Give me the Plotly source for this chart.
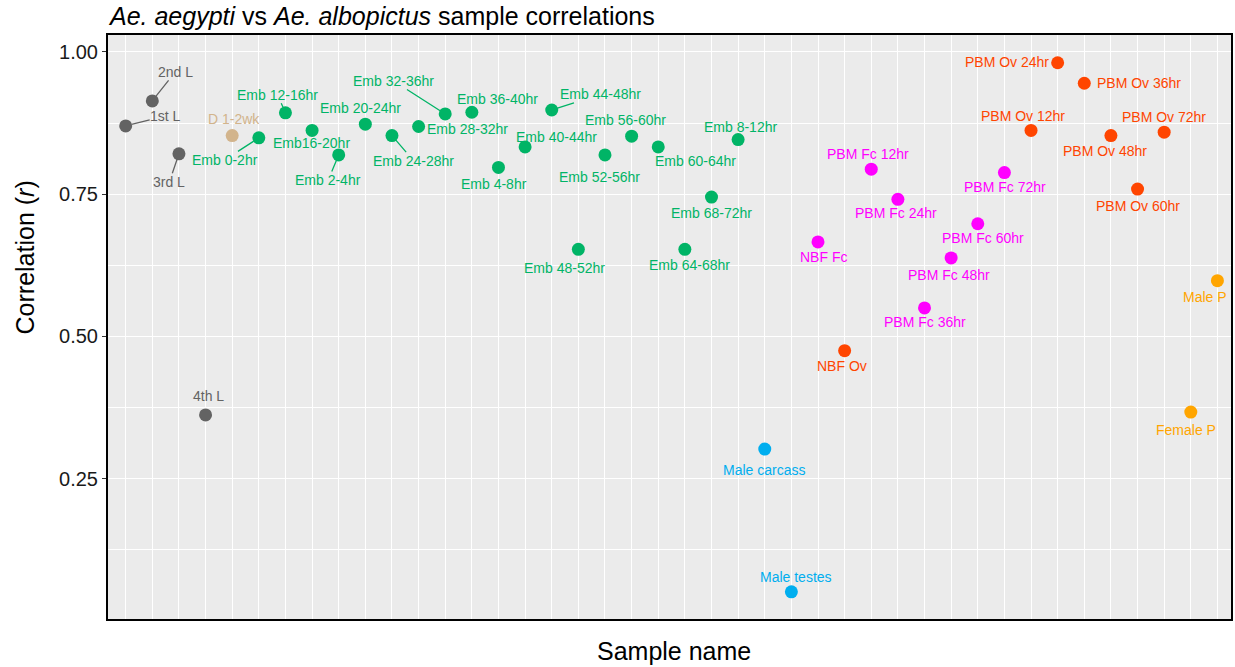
import plotly.graph_objects as go

# Samples in plotting order (alphabetical, as factor levels)
samples = [
    "1st L", "2nd L", "3rd L", "4th L", "D 1-2wk",
    "Emb 0-2hr", "Emb 12-16hr", "Emb16-20hr", "Emb 2-4hr", "Emb 20-24hr",
    "Emb 24-28hr", "Emb 28-32hr", "Emb 32-36hr", "Emb 36-40hr", "Emb 4-8hr",
    "Emb 40-44hr", "Emb 44-48hr", "Emb 48-52hr", "Emb 52-56hr", "Emb 56-60hr",
    "Emb 60-64hr", "Emb 64-68hr", "Emb 68-72hr", "Emb 8-12hr",
    "Male carcass", "Male testes", "NBF Fc", "NBF Ov",
    "PBM Fc 12hr", "PBM Fc 24hr", "PBM Fc 36hr", "PBM Fc 48hr", "PBM Fc 60hr", "PBM Fc 72hr",
    "PBM Ov 12hr", "PBM Ov 24hr", "PBM Ov 36hr", "PBM Ov 48hr", "PBM Ov 60hr", "PBM Ov 72hr",
    "Female P", "Male P",
]

# Pearson correlation between species for each sample
correlation = [
    0.870, 0.914, 0.821, 0.362, 0.853,
    0.849, 0.893, 0.862, 0.819, 0.873,
    0.853, 0.869, 0.891, 0.894, 0.797,
    0.833, 0.898, 0.653, 0.819, 0.852,
    0.833, 0.653, 0.745, 0.846,
    0.302, 0.051, 0.666, 0.475,
    0.794, 0.741, 0.550, 0.638, 0.698, 0.788,
    0.862, 0.981, 0.945, 0.853, 0.759, 0.859,
    0.367, 0.598,
]

# Tissue / stage group of each sample
group = (
    ["Larva"] * 4 + ["Egg"] + ["Embryo"] * 19 + ["Male"] * 2
    + ["Female carcass", "Ovary"] + ["Female carcass"] * 6 + ["Ovary"] * 6
    + ["Pupa"] * 2
)

y_ticks = [0.25, 0.50, 0.75, 1.00]
y_tick_labels = ["0.25", "0.50", "0.75", "1.00"]

group_colors = {
    "Larva": "#636363",
    "Egg": "#D2B48C",
    "Embryo": "#00B466",
    "Male": "#00AEEF",
    "Female carcass": "#FF00FF",
    "Ovary": "#FF4500",
    "Pupa": "#FFA500",
}

# Repelled label placement: pixel offset of label centre from its point,
# and whether a leader segment is drawn
label_offsets = {
    "1st L": (40, -10, True), "2nd L": (23, -29, True), "3rd L": (-9.5, 28, True),
    "4th L": (3, -19, False), "D 1-2wk": (2, -17, False),
    "Emb 0-2hr": (-34, 22, True), "Emb 12-16hr": (-8, -18, True),
    "Emb16-20hr": (-1, 13, False), "Emb 2-4hr": (-10.5, 25, True),
    "Emb 20-24hr": (-5, -16, False), "Emb 24-28hr": (21.5, 25, True),
    "Emb 28-32hr": (48.5, 2.3, False), "Emb 32-36hr": (-51.5, -33, True),
    "Emb 36-40hr": (26, -13, False), "Emb 4-8hr": (-4, 17, False),
    "Emb 40-44hr": (31.7, -10, False), "Emb 44-48hr": (48.5, -15.7, True),
    "Emb 48-52hr": (-14, 19, False), "Emb 52-56hr": (-5, 21.7, False),
    "Emb 56-60hr": (-6, -16.3, False), "Emb 60-64hr": (37, 14, False),
    "Emb 64-68hr": (4.6, 15.4, False), "Emb 68-72hr": (0, 15.7, False),
    "Emb 8-12hr": (2, -12.7, False),
    "Male carcass": (-1, 21, False), "Male testes": (4.5, -15, False),
    "NBF Fc": (5, 15.4, False), "NBF Ov": (-3, 15.3, False),
    "PBM Fc 12hr": (-3, -15, False), "PBM Fc 24hr": (-2, 13.6, False),
    "PBM Fc 36hr": (0, 14.4, False), "PBM Fc 48hr": (-2, 17.4, False),
    "PBM Fc 60hr": (5.5, 14.3, False), "PBM Fc 72hr": (1, 14, False),
    "PBM Ov 12hr": (-8, -14, False), "PBM Ov 24hr": (-51, -0.7, False),
    "PBM Ov 36hr": (55, 0, False), "PBM Ov 48hr": (-6, 15, False),
    "PBM Ov 60hr": (0, 17, False), "PBM Ov 72hr": (0, -14.7, False),
    "Female P": (-5, 17.7, False), "Male P": (-12, 16, False),
}

FONT = "Liberation Sans, Arial, Helvetica, sans-serif"
W, H = 1235, 667
L, R, T, B = 108, 2, 35, 47.5
plot_h = H - T - B

colors = [group_colors[g] for g in group]

fig = go.Figure(
    go.Scatter(
        x=samples, y=correlation, mode="markers",
        marker=dict(size=13, color=colors, line=dict(width=0)),
        hoverinfo="x+y", showlegend=False,
    )
)

annotations = []
for s, r, c in zip(samples, correlation, colors):
    dx, dy, seg = label_offsets[s]
    if seg:
        annotations.append(dict(
            x=s, y=r, xref="x", yref="y", text=s,
            showarrow=True, ax=dx, ay=dy, axref="pixel", ayref="pixel",
            arrowhead=0, arrowwidth=1.3, arrowcolor=c, standoff=6,
            font=dict(family=FONT, size=14, color=c), borderpad=0,
        ))
    else:
        annotations.append(dict(
            x=s, y=r, xref="x", yref="y", text=s, showarrow=False,
            xshift=dx, yshift=-dy,
            font=dict(family=FONT, size=14, color=c),
        ))

# Axis titles
annotations.append(dict(
    text="Correlation (<i>r</i>)", textangle=-90, showarrow=False,
    xref="paper", yref="paper",
    x=(25 - L) / (W - L - R), y=(H - B - 257.5) / plot_h,
    xanchor="center", yanchor="middle",
    font=dict(family=FONT, size=25, color="black"),
))
annotations.append(dict(
    text="Sample name", showarrow=False,
    xref="paper", yref="paper",
    x=(675 - L) / (W - L - R), y=-(652 - (H - B)) / plot_h,
    xanchor="center", yanchor="middle",
    font=dict(family=FONT, size=25, color="black"),
))

fig.update_layout(
    width=W, height=H,
    margin=dict(l=L, r=R, t=T, b=B, pad=0),
    paper_bgcolor="white", plot_bgcolor="#EBEBEB",
    title=dict(
        text="<i>Ae. aegypti</i> vs <i>Ae. albopictus</i> sample correlations",
        xref="container", yref="container",
        x=110 / W, xanchor="left", y=1 - 16.5 / H, yanchor="middle",
        font=dict(family=FONT, size=25, color="black"),
    ),
    annotations=annotations,
    xaxis=dict(
        type="category", categoryorder="array", categoryarray=samples,
        range=[-0.664, 41.51],
        showticklabels=False, ticks="",
        showgrid=True, gridcolor="white", gridwidth=1.1,
        showline=True, linecolor="black", linewidth=2, mirror=True,
        zeroline=False,
    ),
    yaxis=dict(
        range=[0.0033, 1.0298],
        tickvals=y_ticks, ticktext=y_tick_labels,
        ticks="outside", ticklen=4, tickwidth=1.2, tickcolor="#333333",
        tickfont=dict(family=FONT, size=20, color="#1a1a1a"),
        showgrid=True, gridcolor="white", gridwidth=1.1,
        minor=dict(dtick=0.125, tick0=0, showgrid=True, gridcolor="white", gridwidth=0.6, ticks=""),
        showline=True, linecolor="black", linewidth=2, mirror=True,
        zeroline=False,
    ),
)

fig.write_html("out.html")
